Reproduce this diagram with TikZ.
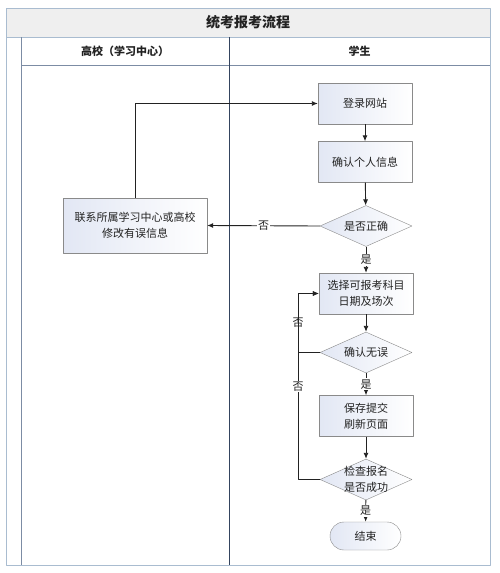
\documentclass[tikz,border=0pt]{standalone}
\usepackage{fontspec}
\setmainfont{Noto Sans CJK SC}
\usetikzlibrary{shapes.geometric,arrows.meta}

\definecolor{framec}{HTML}{A9BCD0}
\definecolor{lanec}{HTML}{7C8CA4}
\definecolor{divc}{HTML}{34445E}
\definecolor{titlec}{HTML}{EFEFEF}
\definecolor{boxblue}{HTML}{E2E7F4}
\definecolor{edgec}{HTML}{8A8A8A}
\definecolor{inkc}{HTML}{222222}

\tikzset{
  procbox/.style={rectangle,draw=edgec,left color=boxblue,right color=white,
    minimum width=94pt,minimum height=41pt,align=center,text=inkc,
    font=\fontsize{11}{16}\selectfont},
  decision/.style={diamond,draw=edgec,left color=boxblue,right color=white,
    aspect=2.24,inner sep=-8pt,minimum width=92pt,minimum height=41pt,
    align=center,text=inkc,font=\fontsize{11}{16}\selectfont},
  terminal/.style={rectangle,rounded corners=14pt,draw=edgec,left color=boxblue,
    right color=white,minimum width=71pt,minimum height=28pt,text=inkc,
    font=\fontsize{11}{14}\selectfont},
  flow/.style={draw=inkc,line width=0.9pt,-{Latex[length=6pt,width=5pt]}},
  lbl/.style={fill=white,inner sep=1pt,text=inkc,font=\fontsize{11}{13}\selectfont},
  headtxt/.style={text=inkc,font=\bfseries\fontsize{11}{13}\selectfont}
}

\begin{document}
\begin{tikzpicture}[x=1pt,y=-1pt,line join=round]

% parameters
\def\Lx{6}      % left edge of pool
\def\Ax{21}     % left edge of lanes
\def\Dx{229}    % lane divider
\def\Rx{490}    % right edge
\def\Ty{8}      % top of title band
\def\Hy{37}     % top of lane headers
\def\By{65}     % bottom of lane headers
\def\Ey{565}    % bottom of pool

\useasboundingbox (0,0) rectangle (499,573);

% pool and title band
\fill[white] (\Lx,\Ty) rectangle (\Rx,\Ey);
\fill[titlec] (\Lx,\Ty) rectangle (\Rx,\Hy);
\draw[framec,line width=0.8pt] (\Lx,\Ty) rectangle (\Rx,\Ey);
\draw[framec,line width=0.8pt] (\Lx,\Hy) -- (\Rx,\Hy);
\node[text=inkc,font=\bfseries\fontsize{14}{16}\selectfont] (title) at ({(\Lx+\Rx)/2},22.5) {统考报考流程};

% lanes
\draw[lanec,line width=0.7pt] (\Ax,\Hy) -- (\Ax,\Ey);
\draw[lanec,line width=0.7pt] (\Ax,\By) -- (\Rx,\By);
\draw[divc,line width=0.8pt] (\Dx,\Hy) -- (\Dx,\Ey);
\node[headtxt] (school) at ({(\Ax+\Dx)/2},51) {高校（学习中心）};
\node[headtxt] (student) at ({(\Dx+\Rx)/2},51) {学生};

% steps of the student
\node[procbox] (login) at (365,103.5) {登录网站};
\node[procbox] (info) at (365,162) {确认个人信息};
\node[decision] (right) at (366,226) {是否正确};
\node[procbox] (sel) at (366,293.5) {选择可报考科目\\日期及场次};
\node[decision] (ok) at (366,352.5) {确认无误};
\node[procbox] (save) at (366,416) {保存提交\\刷新页面};
\node[decision] (chk) at (366,479.5) {检查报名\\是否成功};
\node[terminal] (done) at (365.5,536) {结束};

% step of the school
\node[procbox,minimum width=144pt,minimum height=55pt] (fix) at (135,225.5)
  {联系所属学习中心或高校\\修改有误信息};

% loop column
\coordinate (loopx) at (298,0);

% connectors
\draw[flow] (login) -- (info);
\draw[flow] (info) -- (right);
\draw[flow] (right) -- node[lbl] {是} (sel);
\draw[flow] (right.west) -- node[lbl] {否} (fix.east);
\draw[flow] (fix.north) |- (login.west);
\draw[flow] (sel) -- (ok);
\draw[flow] (ok) -- node[lbl] {是} (save);
\draw[flow] (ok.west) -- (ok.west -| loopx) |- node[lbl,pos=0.25] {否} (sel.west);
\draw[flow] (save) -- (chk);
\draw[flow] (chk.west) -- (chk.west -| loopx) |- node[lbl,pos=0.25] {否} (sel.west);
\draw[flow] (chk) -- node[lbl] {是} (done);

\end{tikzpicture}
\end{document}
